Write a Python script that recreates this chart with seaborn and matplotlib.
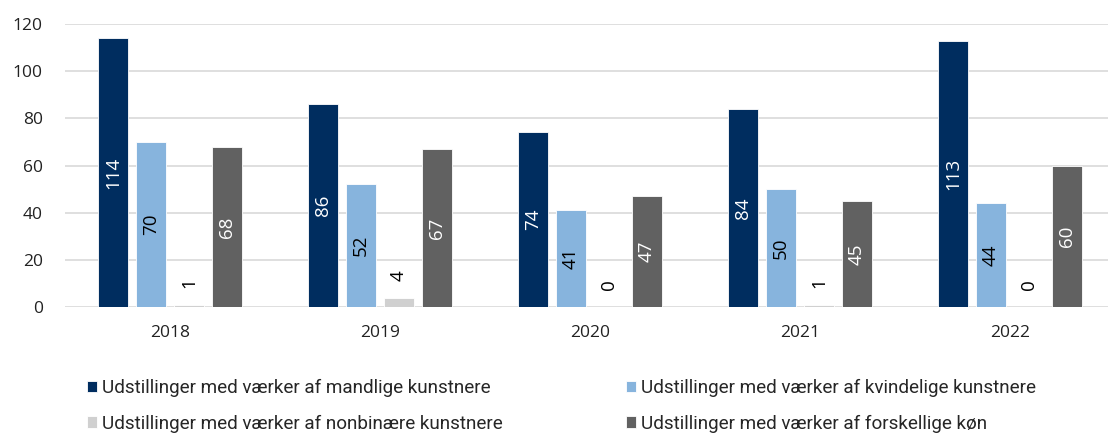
import pandas as pd
import matplotlib.pyplot as plt
import seaborn as sns

years = ['2018', '2019', '2020', '2021', '2022']
series = ['Udstillinger med værker af mandlige kunstnere',
          'Udstillinger med værker af kvindelige kunstnere',
          'Udstillinger med værker af nonbinære kunstnere',
          'Udstillinger med værker af forskellige køn']
mandlige = [114, 86, 74, 84, 113]
kvindelige = [70, 52, 41, 50, 44]
nonbinaere = [1, 4, 0, 1, 0]
forskellige = [68, 67, 47, 45, 60]
yticks = [0, 20, 40, 60, 80, 100, 120]

colors = ['#002D5F', '#87B4DD', '#D0D0D0', '#616161']
label_colors = ['white', 'black', 'black', 'white']

rows = []
for name, vals in zip(series, [mandlige, kvindelige, nonbinaere, forskellige]):
    for y, v in zip(years, vals):
        rows.append({'year': y, 'serie': name, 'antal': v})
df = pd.DataFrame(rows)

sns.set_style('white')
plt.rcParams['font.family'] = ['Open Sans', 'DejaVu Sans']

fig = plt.figure(figsize=(11.08, 4.33), dpi=100)
ax = fig.add_axes([65/1108, 1 - 307/433, 1 - 65/1108, (307 - 24)/433])

sns.barplot(data=df, x='year', y='antal', hue='serie', hue_order=series,
            palette=colors, saturation=1, width=0.724, gap=0.21, edgecolor='white',
            linewidth=0.6, ax=ax, legend=True)

ax.set_ylim(0, 120)
ax.set_xlim(-0.5, 4.5 - 7/210)
ax.set_yticks(yticks)
ax.yaxis.grid(True, color='#D9D9D9', linewidth=1.2)
ax.set_axisbelow(True)
sns.despine(ax=ax, left=True, bottom=True, top=True, right=True)
ax.tick_params(axis='both', length=0, labelsize=12.5, colors='#222222')
ax.tick_params(axis='x', pad=13)
ax.tick_params(axis='y', pad=16)
ax.set_xlabel('')
ax.set_ylabel('')

# data labels, rotated
for cont, lc in zip(ax.containers, label_colors):
    for bar in cont:
        h = bar.get_height()
        cx = bar.get_x() + bar.get_width() / 2
        if h >= 10:
            ax.text(cx, h / 2, f'{int(h)}', rotation=90, ha='center', va='center',
                    color=lc, fontsize=13.5)
        else:
            ax.text(cx, h + 9.5, f'{int(h)}', rotation=90, ha='center', va='center',
                    color='black', fontsize=13.5)

handles, labels = ax.get_legend_handles_labels()
ax.get_legend().remove()
order = [0, 2, 1, 3]
fig.legend([handles[i] for i in order], [labels[i] for i in order], ncol=2,
           loc='upper left', bbox_to_anchor=(87/1108, 1 - 379/433),
           borderaxespad=0, borderpad=0,
           frameon=False, handlelength=0.55, handleheight=0.55, handletextpad=0.25,
           columnspacing=6.5, labelspacing=0.92,
           prop={'family': ['Roboto', 'DejaVu Sans'], 'size': 13.6})

fig.savefig('out.png', dpi=100)
